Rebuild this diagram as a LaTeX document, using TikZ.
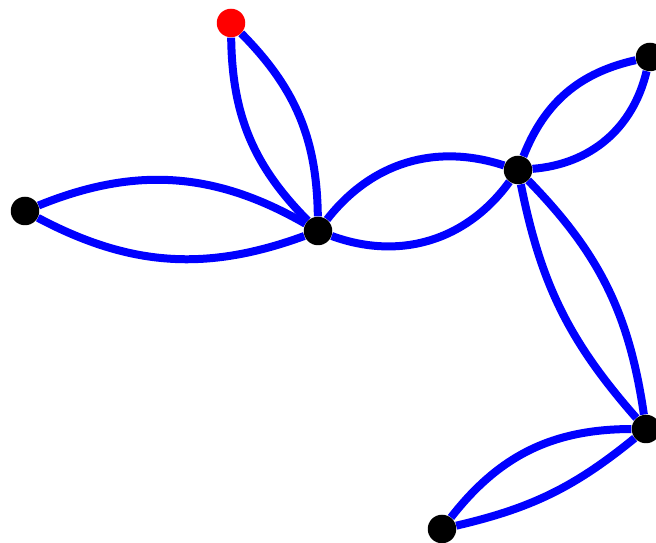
\documentclass[tikz,border=0pt]{standalone}
\usepackage{tikz}
\usetikzlibrary{backgrounds}

\begin{document}
\begin{tikzpicture}[x=0.02cm,y=0.02cm,
  vtx/.style={circle,fill=black,minimum size=0.57cm,inner sep=0pt},
  root/.style={vtx,fill=red},
  arc/.style={draw=blue,line width=0.16cm}]
  \useasboundingbox (0,0) rectangle (656,543);
  \node[root] (r) at (231,520) {};
  \node[vtx] (a) at (25,332) {};
  \node[vtx] (b) at (318,312) {};
  \node[vtx] (c) at (518,373) {};
  \node[vtx] (d) at (650,486) {};
  \node[vtx] (e) at (646,114) {};
  \node[vtx] (f) at (442,14) {};
  \begin{scope}[on background layer]
    \draw[arc] (r) to[bend left=22] (b);
    \draw[arc] (r) to[bend right=22] (b);
    \draw[arc] (a) to[bend left=26] (b);
    \draw[arc] (a) to[bend right=24] (b);
    \draw[arc] (b) to[bend left=35] (c);
    \draw[arc] (b) to[bend right=37] (c);
    \draw[arc] (c) to[bend left=28] (d);
    \draw[arc] (c) to[bend right=36] (d);
    \draw[arc] (c) to[bend left=18] (e);
    \draw[arc] (c) to[bend right=15] (e);
    \draw[arc] (e) to[bend right=26] (f);
    \draw[arc] (e) to[bend left=13] (f);
  \end{scope}
\end{tikzpicture}
\end{document}
